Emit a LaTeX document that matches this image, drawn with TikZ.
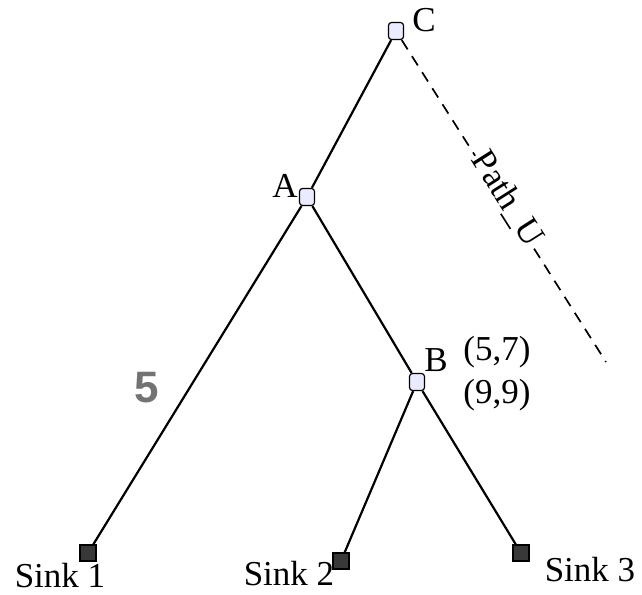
\documentclass[tikz,border=0pt]{standalone}
\usepackage{fontspec}
\setmainfont{Liberation Serif}
\newfontfamily\numfont{Liberation Sans}
\begin{document}
\begin{tikzpicture}[x=1pt,y=-1pt,
  inner/.style={draw=black,fill=blue!8,rounded corners=3pt,minimum width=15pt,minimum height=17pt,inner sep=0pt,line width=1.2pt},
  sink/.style={draw=black,fill=black!78,minimum size=16pt,inner sep=0pt,line width=1.2pt},
  lbl/.style={font=\fontsize{35}{38}\selectfont,inner sep=0pt},
  edge/.style={line width=2.2pt}]
\useasboundingbox (0,0) rectangle (642,594);
\node[inner] (C) at (396,31) {};
\node[inner] (A) at (307,197) {};
\node[inner] (B) at (417,382) {};
\node[sink] (S1) at (88,553) {};
\node[sink] (S2) at (341,561) {};
\node[sink] (S3) at (521,553) {};
\node[lbl] (lC) at (424,20) {C};
\node[lbl] (lA) at (285,186) {A};
\node[lbl] (lB) at (436,360) {B};
\node[lbl] (w1) at (497,352) {(5,7)};
\node[lbl] (w2) at (497,395) {(9,9)};
\node[lbl] (lS1) at (60,576) {Sink 1};
\node[lbl] (lS2) at (289,574) {Sink 2};
\node[lbl] (lS3) at (590,570) {Sink 3};
\node[inner sep=0pt,text=black!55,font=\numfont\bfseries\fontsize{44}{46}\selectfont] (five) at (147,388) {5};
\draw[edge] (C) -- (A);
\draw[edge] (A) -- (S1);
\draw[edge] (A) -- (B);
\draw[edge] (B) -- (S2);
\draw[edge] (B) -- (S3);
\coordinate (pe) at (606,362);
\draw[line width=1.7pt,dash pattern=on 11pt off 8pt] (C) -- node[pos=0.5,sloped,fill=white,lbl,inner sep=1pt,yshift=4pt] (pu) {Path\_U} (pe);
\end{tikzpicture}
\end{document}
